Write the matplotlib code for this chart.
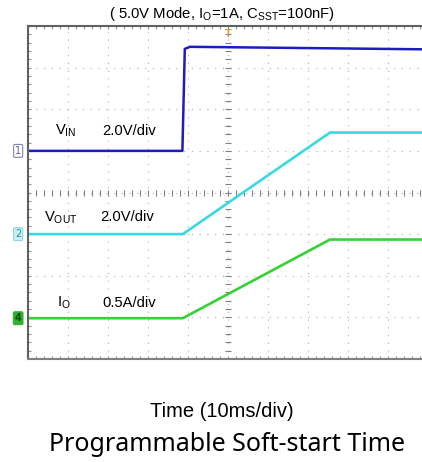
"""
    Soft-start scope capture (5.0V mode).
"""
import numpy as np
import matplotlib.pyplot as plt

# time axis in divisions (10 ms/div), traces in screen divisions
t_vin = [0, 3.86, 3.92, 4.05, 6.0, 9.85]
v_vin = [5.0, 5.0, 7.45, 7.5, 7.48, 7.44]

t_vout = [0, 3.87, 7.55, 9.85]
v_vout = [3.0, 3.0, 5.44, 5.44]

t_io = [0, 3.87, 7.55, 9.85]
v_io = [0.98, 0.98, 2.87, 2.87]

W, H = 422, 462
fig = plt.figure(figsize=(W / 100, H / 100), dpi=100)
ax = fig.add_axes([28 / W, (H - 359) / H, 394 / W, 333 / H])
ax.set_xlim(0, 9.85)
ax.set_ylim(0, 8)

# graticule
grid_kw = dict(color='#b0b0b0', lw=0.8, linestyle=(0, (1, 6)))
for x in range(1, 10):
    ax.axvline(x, **grid_kw)
for y in range(1, 8):
    ax.axhline(y, **grid_kw)
sub = np.arange(0, 10.01, 0.2)
ax.plot(sub, np.full_like(sub, 4), '|', color='#808080', ms=4, mew=0.8)
ax.plot(np.full_like(sub, 5), sub, '_', color='#808080', ms=4, mew=0.8)
ax.plot(sub, np.full_like(sub, 7.97), '|', color='#909090', ms=3, mew=0.8)
ax.plot(sub, np.full_like(sub, 0.03), '|', color='#909090', ms=3, mew=0.8)
ax.plot(np.full_like(sub, 0.03), sub, '_', color='#909090', ms=3, mew=0.8)

ax.plot(t_vin, v_vin, color='#1c1cc0', lw=1.8)
ax.plot(t_vout, v_vout, color='#3ad8e2', lw=1.9)
ax.plot(t_io, v_io, color='#35d135', lw=1.9)

ax.spines['right'].set_visible(False)
ax.spines['top'].set_color('#606060')
ax.spines['left'].set_color('#606060')
ax.spines['bottom'].set_color('#808080')
for s in ['top', 'left', 'bottom']:
    ax.spines[s].set_linewidth(1.5)
ax.set_xticks([])
ax.set_yticks([])

lab = dict(fontsize=10.6, family='Liberation Sans', va='center', ha='left')
ax.text(0.68, 5.48, r'V$_\mathregular{IN}$', **lab)
ax.text(1.85, 5.48, '2.0V/div', **lab)
ax.text(0.40, 3.40, r'V$_\mathregular{OUT}$', **lab)
ax.text(1.80, 3.40, '2.0V/div', **lab)
ax.text(0.72, 1.35, r'I$_\mathregular{O}$', **lab)
ax.text(1.87, 1.35, '0.5A/div', **lab)

# channel markers
yt = ax.get_yaxis_transform()
mk = dict(transform=yt, ha='center', va='center', fontsize=7, clip_on=False)
ax.text(-0.025, 5.0, '1', color='#6060a0',
        bbox=dict(boxstyle='round,pad=0.15', fc='white', ec='#8080b0', lw=0.8), **mk)
ax.text(-0.025, 3.0, '2', color='#2090a0',
        bbox=dict(boxstyle='round,pad=0.15', fc='#c8f0f4', ec='#90d8e0', lw=0.8), **mk)
ax.text(-0.025, 0.98, '4', color='#0a4a0a', fontweight='bold',
        bbox=dict(boxstyle='round,pad=0.15', fc='#30b030', ec='#30b030', lw=0.8), **mk)

# trigger marker
ax.text(5.0, 7.8, 'T', color='#e89030', fontsize=8, fontweight='bold',
        ha='center', va='center', family='Liberation Sans')

fig.text(222 / W, 1 - 14 / H, r'( 5.0V Mode, I$_\mathregular{O}$=1A, C$_\mathregular{SST}$=100nF)',
         ha='center', va='center', fontsize=10.7, family='Liberation Sans')
fig.text(222 / W, 1 - 417 / H, 'Time (10ms/div)',
         ha='center', va='baseline', fontsize=14.5, family='Liberation Sans')
fig.text(227 / W, 1 - 451 / H, 'Programmable Soft-start Time',
         ha='center', va='baseline', fontsize=18, family='Noto Sans')

fig.savefig('out.png', dpi=100)
